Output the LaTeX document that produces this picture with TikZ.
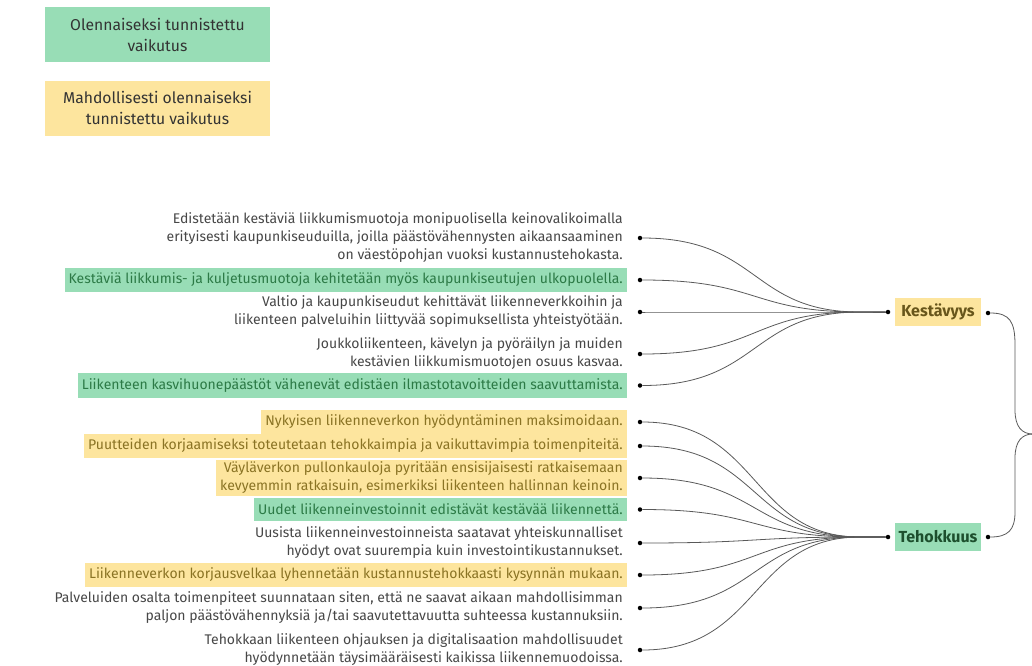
\documentclass[tikz,border=0pt]{standalone}
\usepackage{fontspec}
\setmainfont{Fira Sans}
\definecolor{vihrea}{HTML}{98DDB6}
\definecolor{keltainen}{HTML}{FDE59E}
\definecolor{vihreateksti}{HTML}{2C7A46}
\definecolor{keltateksti}{HTML}{8A7324}
\definecolor{harmaa}{HTML}{474747}

\begin{document}
\begin{tikzpicture}[x=1pt,y=-1pt,
	teksti/.style={anchor=east,align=right,inner xsep=4pt,inner ysep=5.5pt,text=harmaa,font=\fontsize{14}{18}\selectfont},
	vihreat/.style={teksti,fill=vihrea,text=vihreateksti},
	keltaiset/.style={teksti,fill=keltainen,text=keltateksti},
	selite/.style={minimum width=225pt,minimum height=55pt,align=center,text=black!80,font=\fontsize{15.7}{21}\selectfont},
	keskus/.style={minimum width=86pt,minimum height=28pt,inner sep=0pt,font=\fontsize{16}{18}\selectfont\bfseries},
	piste/.style={circle,fill=black,inner sep=0pt,minimum size=4.5pt},
	viiva/.style={draw=black!65,line width=0.8pt}]
	\useasboundingbox (0,0) rectangle (1032,665);
	\node[selite,fill=vihrea] (s1) at (157.5,34.5) {Olennaiseksi tunnistettu\\vaikutus};
	\node[selite,fill=keltainen] (s2) at (157.5,108) {Mahdollisesti olennaiseksi\\tunnistettu vaikutus};
	\node[teksti] (t1) at (627,238) {Edistetään kestäviä liikkumismuotoja monipuolisella keinovalikoimalla\\erityisesti kaupunkiseuduilla, joilla päästövähennysten aikaansaaminen\\on väestöpohjan vuoksi kustannustehokasta.};
	\node[vihreat] (t2) at (627,280) {Kestäviä liikkumis- ja kuljetusmuotoja kehitetään myös kaupunkiseutujen ulkopuolella.};
	\node[teksti] (t3) at (627,312) {Valtio ja kaupunkiseudut kehittävät liikenneverkkoihin ja\\liikenteen palveluihin liittyvää sopimuksellista yhteistyötään.};
	\node[teksti] (t4) at (627,354) {Joukkoliikenteen, kävelyn ja pyöräilyn ja muiden\\kestävien liikkumismuotojen osuus kasvaa.};
	\node[vihreat] (t5) at (627,385.5) {Liikenteen kasvihuonepäästöt vähenevät edistäen ilmastotavoitteiden saavuttamista.};
	\node[keltaiset] (t6) at (627,422) {Nykyisen liikenneverkon hyödyntäminen maksimoidaan.};
	\node[keltaiset] (t7) at (627,446) {Puutteiden korjaamiseksi toteutetaan tehokkaimpia ja vaikuttavimpia toimenpiteitä.};
	\node[keltaiset,inner ysep=2.5pt] (t8) at (627,478) {Väyläverkon pullonkauloja pyritään ensisijaisesti ratkaisemaan\\kevyemmin ratkaisuin, esimerkiksi liikenteen hallinnan keinoin.};
	\node[vihreat] (t9) at (627,509.5) {Uudet liikenneinvestoinnit edistävät kestävää liikennettä.};
	\node[teksti] (t10) at (627,543) {Uusista liikenneinvestoinneista saatavat yhteiskunnalliset\\hyödyt ovat suurempia kuin investointikustannukset.};
	\node[keltaiset] (t11) at (627,575) {Liikenneverkon korjausvelkaa lyhennetään kustannustehokkaasti kysynnän mukaan.};
	\node[teksti] (t12) at (627,608) {Palveluiden osalta toimenpiteet suunnataan siten, että ne saavat aikaan mahdollisimman\\paljon päästövähennyksiä ja/tai saavutettavuutta suhteessa kustannuksiin.};
	\node[teksti] (t13) at (627,650) {Tehokkaan liikenteen ohjauksen ja digitalisaation mahdollisuudet\\hyödynnetään täysimääräisesti kaikissa liikennemuodoissa.};
	\node[keskus,fill=keltainen,text=keltateksti!75!black] (kes) at (938,312) {Kestävyys};
	\node[keskus,fill=vihrea,text=vihreateksti!65!black] (teh) at (938,537) {Tehokkuus};
	\coordinate (kc) at (860,312);
	\coordinate (tc) at (860,537);
	\coordinate (karki) at (1033,434);
	\node[piste] (kv) at (888,312) {};
	\node[piste] (ko) at (988,313) {};
	\node[piste] (tv) at (888,537) {};
	\node[piste] (to) at (988,537) {};
	\foreach \i in {1,...,13} \node[piste] (d\i) at (t\i.east -| 640,0) {};
	\foreach \i in {1,...,5} \draw[viiva] (d\i) .. controls +(120,0) and +(-110,0) .. (kc) -- (kv);
	\foreach \i in {6,...,13} \draw[viiva] (d\i) .. controls +(120,0) and +(-110,0) .. (tc) -- (tv);
	\draw[viiva] (ko) .. controls (1010,313) and (1015,322) .. (1015,345) -- (1015,410) .. controls (1015,427) and (1022,434) .. (karki);
	\draw[viiva] (karki) .. controls (1022,434) and (1015,441) .. (1015,458) -- (1015,512) .. controls (1015,530) and (1008,537) .. (to);
\end{tikzpicture}
\end{document}
